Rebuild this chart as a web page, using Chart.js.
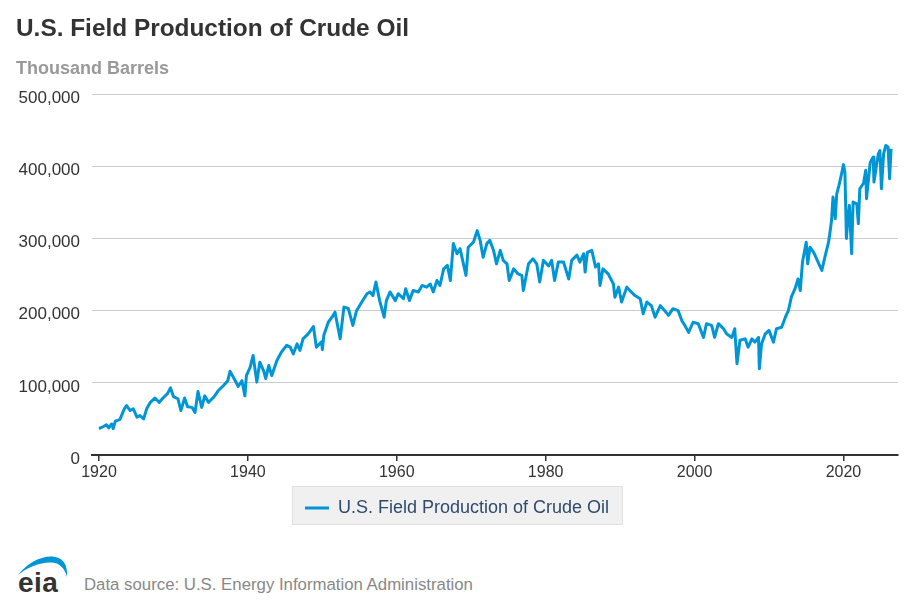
<!DOCTYPE html>
<html lang="en">
<head>
    <meta charset="UTF-8">
    <title>U.S. Field Production of Crude Oil</title>
    <script src="https://cdn.jsdelivr.net/npm/chart.js"></script>
    <style>
        body {
            margin: 0;
            background: #fff;
            font-family: 'Liberation Sans', Arial, sans-serif;
        }
        .wrapper {
            position: relative;
            width: 914px;
            height: 545px;
        }
        .logo {
            position: absolute;
            left: 16px;
            top: 553px;
        }
        .source {
            position: absolute;
            left: 84px;
            top: 575px;
            font-size: 16.8px;
            line-height: 20px;
            color: #888;
        }
    </style>
</head>
<body>
    <div class="wrapper">
        <canvas id="crudeChart"></canvas>
    </div>
    <svg class="logo" width="60" height="42" viewBox="0 0 60 42">
        <path d="M2 22 C10 11 24 3 36 3.5 C46 4 52 10 51 24 C49 16 44 10 36 9.5 C24 9 12 14 2 22 Z" fill="#0096d6"/>
        <text x="2" y="39" font-family="Liberation Sans, Arial, sans-serif" font-weight="bold" font-size="28" letter-spacing="0.5" fill="#333">eia</text>
    </svg>
    <div class="source">Data source: U.S. Energy Information Administration</div>

    <script>
        // [year, thousand barrels]
        const prod1920to1945 = [
            [1920.0, 36700], [1920.6, 39500], [1921.0, 42000], [1921.3, 37500], [1921.7, 43000], [1921.9, 36500],
            [1922.2, 47000], [1922.8, 49000], [1923.4, 64000], [1923.7, 68500], [1924.2, 61600], [1924.6, 64000],
            [1925.1, 52400], [1925.5, 54700], [1926.0, 50000], [1926.4, 64000], [1926.9, 73000], [1927.5, 79000],
            [1928.1, 73000], [1928.6, 79000], [1929.2, 85000], [1929.6, 93000], [1930.0, 81000], [1930.6, 78000],
            [1931.0, 61600], [1931.5, 79000], [1931.9, 67000], [1932.5, 66000], [1932.9, 59000], [1933.3, 88000],
            [1933.8, 66000], [1934.2, 82000], [1934.7, 73000], [1935.4, 80000], [1936.0, 89000], [1936.7, 96000],
            [1937.3, 103000], [1937.6, 116000], [1938.2, 105000], [1938.7, 95000], [1939.2, 103000], [1939.6, 82000],
            [1939.8, 110000], [1940.3, 121500], [1940.7, 138000], [1941.2, 101000], [1941.6, 128600], [1942.1, 117000],
            [1942.4, 106000], [1942.8, 124000], [1943.2, 110000], [1943.9, 131000], [1944.5, 142600], [1945.2, 152000]
        ];
        const prod1945to1970 = [
            [1945.7, 149500], [1946.1, 140000], [1946.6, 154000], [1947.0, 145000], [1947.4, 161000], [1948.1, 168000],
            [1948.8, 178000], [1949.2, 149500], [1949.9, 157000], [1950.0, 146000], [1950.2, 166000], [1950.8, 184000],
            [1951.3, 191000], [1951.7, 198000], [1952.4, 161000], [1952.9, 205000], [1953.5, 203000], [1954.1, 179600],
            [1954.6, 200000], [1955.3, 212000], [1956.0, 223600], [1956.4, 226000], [1956.8, 221000], [1957.2, 239700],
            [1957.7, 214000], [1958.3, 191000], [1958.6, 214000], [1959.1, 226000], [1959.8, 214000], [1960.2, 223600],
            [1960.9, 216600], [1961.2, 230500], [1961.7, 214000], [1962.2, 228000], [1962.9, 226000], [1963.4, 235000],
            [1964.0, 232700], [1964.5, 237000], [1964.9, 226000], [1965.4, 242000], [1965.8, 235000], [1966.3, 258000],
            [1966.8, 262800], [1967.2, 242000], [1967.6, 293000], [1968.1, 279000], [1968.5, 286000], [1968.9, 267400],
            [1969.3, 249000], [1969.6, 288000], [1970.3, 295000]
        ];
        const prod1970to1995 = [
            [1970.8, 311000], [1971.2, 297500], [1971.6, 274000], [1972.1, 293000], [1972.5, 297500], [1973.0, 283600],
            [1973.4, 265000], [1973.9, 283600], [1974.3, 269800], [1974.8, 265000], [1975.1, 242000], [1975.7, 258000],
            [1976.3, 251000], [1976.8, 249000], [1977.0, 228000], [1977.7, 265000], [1978.3, 272000], [1978.8, 265000],
            [1979.2, 239700], [1979.7, 269800], [1980.4, 262000], [1980.8, 269800], [1981.2, 242000], [1981.7, 267400],
            [1982.4, 267400], [1983.1, 244000], [1983.5, 269800], [1984.2, 277000], [1984.6, 267400], [1985.1, 279000],
            [1985.3, 253500], [1985.6, 281000], [1986.2, 283600], [1986.7, 260500], [1987.1, 265000], [1987.3, 235000],
            [1987.7, 258000], [1988.4, 251000], [1989.1, 237000], [1989.3, 218700], [1989.8, 232700], [1990.2, 212000],
            [1990.9, 232700], [1991.3, 228000], [1992.0, 221000], [1992.7, 216600], [1993.1, 195700], [1993.6, 212000],
            [1994.2, 207000], [1994.7, 191000], [1995.4, 207000]
        ];
        const prod1995to2020 = [
            [1996.0, 200000], [1996.5, 193500], [1997.1, 202800], [1997.8, 200000], [1998.3, 186000], [1998.7, 179600],
            [1999.2, 170000], [1999.8, 184000], [2000.5, 182000], [2001.2, 163000], [2001.6, 182000], [2002.3, 179600],
            [2002.7, 163000], [2003.2, 182000], [2003.9, 175000], [2004.3, 168000], [2005.0, 163000], [2005.4, 175000],
            [2005.7, 126500], [2006.1, 159000], [2006.8, 161000], [2007.2, 149500], [2007.7, 161000], [2008.1, 156500],
            [2008.6, 163000], [2008.7, 119500], [2009.0, 154000], [2009.5, 168000], [2010.0, 172700], [2010.6, 156500],
            [2011.0, 175000], [2011.7, 177000], [2012.2, 191000], [2012.6, 200000], [2013.0, 218700], [2013.5, 230500],
            [2013.9, 244000], [2014.2, 228000], [2014.5, 267400], [2015.0, 295000], [2015.2, 265000], [2015.5, 288000],
            [2016.0, 281000], [2016.4, 272000], [2016.9, 260500], [2017.1, 255800], [2017.5, 274000], [2018.0, 295000],
            [2018.2, 309000], [2018.4, 325000], [2018.6, 357500], [2018.9, 327600], [2019.1, 362000], [2019.4, 373800],
            [2019.8, 392000], [2020.0, 402500]
        ];
        const prod2020on = [
            [2020.2, 392000], [2020.4, 300000], [2020.6, 327600], [2020.8, 346000], [2021.1, 279000], [2021.3, 350600],
            [2021.8, 348000], [2022.0, 320600], [2022.2, 369000], [2022.7, 376700], [2023.0, 394600], [2023.1, 355300],
            [2023.6, 405500], [2024.0, 413000], [2024.1, 378500], [2024.5, 405500], [2024.7, 417700], [2024.9, 422000],
            [2025.1, 369000], [2025.4, 417700], [2025.7, 429000], [2026.0, 427000], [2026.2, 383000], [2026.4, 424600]
        ];
        const xTickYears = [1920, 1940, 1960, 1980, 2000, 2020];
        const yTickValues = [0, 100000, 200000, 300000, 400000, 500000];

        const production = [].concat(prod1920to1945, prod1945to1970, prod1970to1995, prod1995to2020, prod2020on)
            .map(p => ({ x: p[0], y: p[1] }));

        Chart.defaults.font.family = "'Liberation Sans', Arial, sans-serif";

        // grey box behind the legend item
        const legendBox = {
            id: 'legendBox',
            beforeDraw(chart) {
                const hb = chart.legend.legendHitBoxes[0];
                if (!hb) return;
                const ctx = chart.ctx;
                ctx.save();
                ctx.fillStyle = '#f0f0f0';
                ctx.strokeStyle = '#e0e0e0';
                ctx.lineWidth = 1;
                ctx.fillRect(hb.left - 12, hb.top - 12, hb.width + 25, hb.height + 19);
                ctx.strokeRect(hb.left - 12.5, hb.top - 12.5, hb.width + 26, hb.height + 20);
                ctx.restore();
            }
        };

        const ctx = document.getElementById('crudeChart').getContext('2d');
        const crudeChart = new Chart(ctx, {
            type: 'line',
            data: {
                datasets: [{
                    label: 'U.S. Field Production of Crude Oil',
                    data: production,
                    borderColor: '#0096d6',
                    backgroundColor: '#0096d6',
                    borderWidth: 3,
                    borderJoinStyle: 'round',
                    pointRadius: 0,
                    tension: 0
                }]
            },
            options: {
                responsive: true,
                maintainAspectRatio: false,
                animation: false,
                layout: {
                    padding: { left: 16, right: 16, top: 0, bottom: 18 }
                },
                scales: {
                    x: {
                        type: 'linear',
                        min: 1919.06,
                        max: 2027.33,
                        afterBuildTicks: scale => { scale.ticks = xTickYears.map(v => ({ value: v })); },
                        afterFit: scale => { scale.height = 33; },
                        grid: {
                            drawOnChartArea: false,
                            tickLength: 6,
                            color: '#333',
                            lineWidth: 1.5
                        },
                        border: { color: '#333', width: 2 },
                        ticks: {
                            color: '#333',
                            padding: 2,
                            maxRotation: 0,
                            font: { size: 16 },
                            callback: v => String(v)
                        }
                    },
                    y: {
                        min: 0,
                        max: 500000,
                        afterBuildTicks: scale => { scale.ticks = yTickValues.map(v => ({ value: v })); },
                        afterFit: scale => { scale.width = 76; },
                        grid: {
                            drawTicks: false,
                            color: '#cccccc',
                            lineWidth: 1
                        },
                        border: { display: false },
                        ticks: {
                            color: '#333',
                            padding: 12,
                            labelOffset: 4,
                            font: { size: 17 },
                            callback: v => v.toLocaleString('en-US')
                        }
                    }
                },
                plugins: {
                    title: {
                        display: true,
                        text: 'U.S. Field Production of Crude Oil',
                        align: 'start',
                        color: '#333',
                        font: { size: 24.4, weight: 'bold' },
                        padding: { top: 14.6, bottom: 0 }
                    },
                    subtitle: {
                        display: true,
                        text: 'Thousand Barrels',
                        align: 'start',
                        color: '#999',
                        font: { size: 18, weight: 'bold' },
                        padding: { top: 14.3, bottom: 14.5 }
                    },
                    legend: {
                        position: 'bottom',
                        labels: {
                            color: '#2e4b6c',
                            padding: 11,
                            usePointStyle: true,
                            pointStyle: 'line',
                            pointStyleWidth: 24,
                            font: { size: 18 }
                        }
                    },
                    tooltip: { enabled: false }
                }
            },
            plugins: [legendBox]
        });
    </script>
</body>
</html>
